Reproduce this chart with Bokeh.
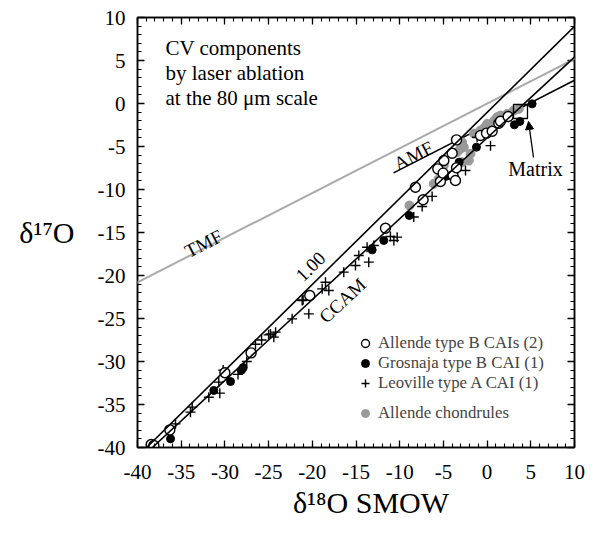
import math
from bokeh.plotting import figure
from bokeh.models import (Slope, Label, Legend, LegendItem, LinearAxis, Arrow,
                          NormalHead, FixedTicker)
from bokeh.embed import file_html
from bokeh.resources import INLINE

# ---------------- data ----------------
cai_allende_x = [-38.44, -38.13, -36.3, -30.0, -27.0, -20.29, -11.63, -8.2, -7.32, -5.64,
                 -5.34, -5.03, -4.95, -4.0, -3.89, -3.62, -3.5, -3.5, -0.76, -0.07,
                 0.58, 1.34, 1.53, 2.41]
cai_allende_y = [-39.65, -39.77, -37.95, -31.3, -29.0, -22.33, -14.5, -9.73, -11.2, -7.6,
                 -9.07, -8.1, -6.63, -5.78, -8.37, -8.95, -4.23, -7.48, -3.72, -3.45,
                 -3.22, -2.29, -2.06, -1.51]

cai_grosnaja_x = [-36.22, -31.27, -29.36, -28.1, -27.9, -13.15, -11.82, -8.9, -4.65, -3.2,
                  -1.22, 3.13, 3.74, 5.15]
cai_grosnaja_y = [-38.99, -33.37, -32.33, -31.0, -30.7, -17.02, -15.93, -13.02, -8.45, -6.82,
                  -5.08, -2.48, -2.09, -0.04]

cai_leoville_x = [-35.65, -33.94, -33.74, -31.84, -30.58, -30.7, -30.2, -28.5, -27.5, -26.5,
                  -25.8, -25.0, -24.79, -24.4, -24.2, -22.31, -21.16, -21.05, -20.4, -18.87,
                  -18.11, -18.49, -16.4, -15.06, -14.68, -13.54, -13.73, -12.96, -11.06,
                  -10.29, -10.67, -8.39, -7.43, -6.29, -2.47, 0.39, -1.14]
cai_leoville_y = [-37.25, -35.89, -35.31, -34.15, -33.68, -32.4, -31.0, -31.5, -30.0, -28.0,
                  -27.5, -26.9, -26.8, -27.17, -26.59, -25.04, -22.91, -22.83, -24.46, -21.55,
                  -21.74, -20.78, -19.61, -18.84, -17.68, -18.45, -16.71, -16.51, -15.47,
                  -15.54, -15.93, -13.2, -11.98, -10.8, -7.79, -4.9, -3.92]

chondrule_x = [-8.88, -6.1, -5.53, -4.95, -3.43, -3.05, -2.86, -2.86, -2.67, -2.09, -1.9,
               -0.76, 0.0, 0.39, 1.15, 1.53, 2.3, 3.05, 3.63, -1.5, -0.3, 0.8, 2.0]
chondrule_y = [-11.86, -9.34, -8.76, -7.21, -5.66, -5.27, -4.5, -6.82, -5.08, -6.63, -5.85,
               -3.14, -2.37, -2.56, -1.59, -1.4, -1.2, -0.82, -0.62, -3.5, -2.8, -2.0, -1.7]

matrix_x = [3.82]
matrix_y = [-0.93]

# reference lines: slope, intercept
tmf_slope, tmf_int = 0.52, 0.0
slope1_slope, slope1_int = 1.00, -1.04
ccam_slope, ccam_int = 0.94, -4.0
amf_slope, amf_int = 0.52, -2.5
amf_x_range = [-10.7, 10.0]

ticks = [-40, -35, -30, -25, -20, -15, -10, -5, 0, 5, 10]
minor = list(range(-40, 11))

x_title = "\u2002\u2002\u03b4\u00b9\u2078O SMOW"
y_title = "\u03b4\u00b9\u2077O"

# ---------------- figure ----------------
FL, FT, FW, FH = 137, 17, 437, 430
XR, YR = (-40, 10), (-40, 10)


def dx(px):
    return XR[0] + (px - FL) * (XR[1] - XR[0]) / FW


def dy(py):
    return YR[1] - (py - FT) * (YR[1] - YR[0]) / FH


SERIF = "Liberation Serif"

p = figure(frame_width=FW, frame_height=FH, x_range=XR, y_range=YR,
           output_backend="svg", toolbar_location=None,
           min_border_left=FL, min_border_top=FT, min_border_right=14,
           min_border_bottom=84, background_fill_color="white",
           border_fill_color="white")
p.xgrid.visible = False
p.ygrid.visible = False
p.outline_line_color = "black"
p.outline_line_width = 1.5

labels_map = {t: str(t) for t in ticks}
for ax in (p.xaxis[0], p.yaxis[0]):
    ax.ticker = FixedTicker(ticks=ticks, minor_ticks=minor)
    ax.major_label_overrides = labels_map
    ax.major_tick_in = 7
    ax.major_tick_out = 0
    ax.minor_tick_in = 4
    ax.minor_tick_out = 0
    ax.axis_line_color = "black"
    ax.axis_line_width = 1.5
    ax.major_tick_line_width = 1.3
    ax.minor_tick_line_width = 1.1
    ax.major_label_text_font = SERIF
    ax.major_label_text_font_size = "21px"
    ax.major_label_text_color = "black"
    ax.axis_label_text_font = SERIF
    ax.axis_label_text_font_size = "30px"
    ax.axis_label_text_font_style = "normal"
    ax.axis_label_text_color = "black"
p.xaxis[0].major_label_standoff = 17
p.yaxis[0].major_label_standoff = 12
p.xaxis[0].axis_label = x_title
p.xaxis[0].axis_label_standoff = 4
p.yaxis[0].axis_label = y_title
p.yaxis[0].axis_label_orientation = "horizontal"
p.yaxis[0].axis_label_standoff = 20
p.yaxis[0].axis_label_text_baseline = "top"

for loc in ("above", "right"):
    ax = LinearAxis(ticker=FixedTicker(ticks=ticks, minor_ticks=minor),
                    major_tick_in=7, major_tick_out=0, minor_tick_in=4, minor_tick_out=0,
                    major_label_text_font_size="1px", major_label_text_color=None,
                    major_label_standoff=0,
                    axis_line_width=1.5, major_tick_line_width=1.3,
                    minor_tick_line_width=1.1)
    p.add_layout(ax, loc)

# lines
p.add_layout(Slope(gradient=tmf_slope, y_intercept=tmf_int, line_color="#aaaaaa",
                   line_width=2))
p.add_layout(Slope(gradient=slope1_slope, y_intercept=slope1_int, line_color="black",
                   line_width=1.6))
p.add_layout(Slope(gradient=ccam_slope, y_intercept=ccam_int, line_color="black",
                   line_width=1.6))
p.line(amf_x_range, [amf_slope * v + amf_int for v in amf_x_range], line_color="black",
       line_width=1.6)

# points
r_ch = p.scatter(chondrule_x, chondrule_y, marker="circle", size=9, fill_color="#999999",
                 line_color="#999999")
r_leo = p.scatter(cai_leoville_x, cai_leoville_y, marker="cross", size=10,
                  line_color="black", line_width=1.4)
r_gro = p.scatter(cai_grosnaja_x, cai_grosnaja_y, marker="circle", size=8,
                  fill_color="black", line_color="black")
r_all = p.scatter(cai_allende_x, cai_allende_y, marker="circle", size=10,
                  fill_color="white", line_color="black", line_width=1.4)
p.scatter(matrix_x, matrix_y, marker="square", size=14, fill_color=None,
          line_color="black", line_width=1.3)

# legends
leg_kw = dict(padding=0, margin=0, spacing=0, glyph_width=20, glyph_height=20,
              label_height=20, label_standoff=3, label_text_font=SERIF,
              label_text_font_size="16.8px", background_fill_alpha=0,
              border_line_alpha=0)
leg1 = Legend(items=[LegendItem(label="Allende type B CAIs (2)", renderers=[r_all]),
                     LegendItem(label="Grosnaja type B CAI (1)", renderers=[r_gro]),
                     LegendItem(label="Leoville type A CAI (1)", renderers=[r_leo])],
              location=(218, 54), **leg_kw)
leg2 = Legend(items=[LegendItem(label="Allende chondrules", renderers=[r_ch])],
              location=(218, 24), **leg_kw)
p.add_layout(leg1, "center")
p.add_layout(leg2, "center")


# text annotations
def lab(txt, px, py, size, angle=0.0, align="left", baseline="middle"):
    p.add_layout(Label(x=dx(px), y=dy(py), text=txt, text_font=SERIF,
                       text_font_size=size, angle=angle, text_align=align,
                       text_baseline=baseline, text_color="black"))


lab("CV components", 165, 47, "21px")
lab("by laser ablation", 165, 72, "21px")
lab("at the 80 \u03bcm scale", 165, 97, "21px")

lab("TMF", 203, 243, "19px", angle=math.radians(27), align="center")
lab("AMF", 413, 155, "19px", angle=math.radians(27), align="center")
lab("1.00", 310, 266, "19px", angle=math.radians(44.5), align="center")
lab("CCAM", 342, 300, "19px", angle=math.radians(43), align="center")
lab("Matrix", 535, 168, "20px", align="center")

p.add_layout(Arrow(end=NormalHead(size=8, fill_color="black", line_color="black"),
                   x_start=dx(533), y_start=dy(157), x_end=dx(528), y_end=dy(121),
                   line_color="black", line_width=1.3))

open("out.html", "w").write(file_html(p, INLINE))
